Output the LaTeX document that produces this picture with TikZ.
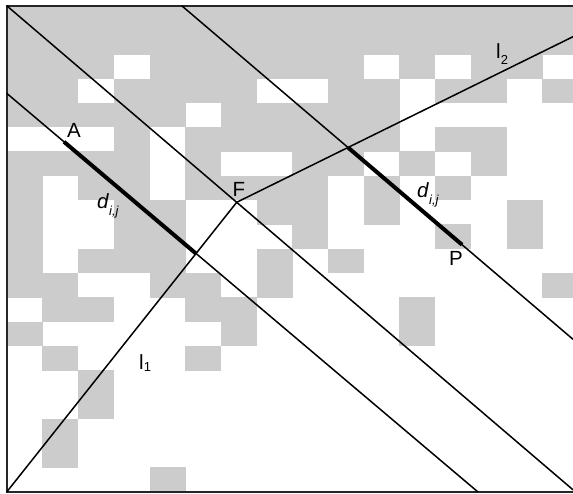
\documentclass[tikz,border=0pt]{standalone}
\usepackage{fontspec}
\setmainfont{Liberation Sans}
\definecolor{cellgray}{RGB}{204,204,204}
\begin{document}
\begin{tikzpicture}[x=1pt,y=-1pt,
  thinline/.style={line width=1.5pt,black},
  thickline/.style={line width=4pt,black},
  frameline/.style={line width=2pt,black!85},
  lbl/.style={font=\fontsize{20.5}{20.5}\selectfont,inner sep=0pt}]
\useasboundingbox (0,0) rectangle (573,494);
\clip (0,0) rectangle (573,494);
\fill[white] (0,0) rectangle (573,494);
\def\gx{6.7}\def\gy{5.7}\def\cw{35.7}\def\ch{24.3}
\foreach \r/\cols in {0/{0,...,15},1/{0,...,15},
  2/{0,1,2,4,5,6,7,8,9,11,13,14},
  3/{0,1,3,4,5,6,9,10,12,13,15},
  4/{0,1,2,3,4,6,7,8,9,10},
  5/{3,5,6,7,8,9,10,12,13},
  6/{0,1,2,3,5,8,9,11,13},
  7/{0,2,3,5,6,7,8,10,12},
  8/{0,3,4,7,8,10,14},
  9/{0,3,4,8,12,14},
  10/{0,2,3,4,7,9},
  11/{0,1,4,5,7,15},
  12/{1,2,5,6,11},
  13/{0,6,11},
  14/{1,5},
  15/{2},16/{2},17/{1},18/{1},19/{4}}{
  \foreach \c in \cols {
    \fill[cellgray] ({\gx+\c*\cw},{\gy+\r*\ch}) rectangle ++({\cw+0.3},{\ch+0.3});
  }
}
% frame
\coordinate (FTR) at (580,5.7);
\coordinate (TL) at (6.7,5.7);
\coordinate (BL) at (6.7,491.7);
\coordinate (FBR) at (580,491.7);
\draw[frameline] (FTR) -- (TL) -- (BL) -- (FBR);
% key points
\coordinate (D1end) at (573,489.8);
\coordinate (L2a) at (6.7,93.3);
\coordinate (L2b) at (478,492);
\coordinate (L3a) at (181.7,5.7);
\coordinate (L3b) at (573,339.3);
\coordinate (F) at (236.7,202.3);
\coordinate (L1a) at (6.7,492);
\coordinate (L2e) at (573,36.7);
\coordinate (X1) at (195.9,253.5);
\coordinate (X2) at (348,147.5);
\coordinate (Apt) at (64,141.8);
\coordinate (Ppt) at (462,244.7);
% lines
\draw[thinline] (TL) -- (D1end);
\draw[thinline] (L2a) -- (L2b);
\draw[thinline] (L3a) -- (L3b);
\draw[thinline] (L1a) -- (F);
\draw[thinline] (F) -- (L2e);
\draw[thickline] (Apt) -- (X1);
\draw[thickline] (X2) -- (Ppt);
% labels
\node[lbl] (labA) at (74,130) {A};
\node[lbl] (labF) at (239,189) {F};
\node[lbl] (labP) at (456,258) {P};
\node[lbl,anchor=base west] (labd1) at (97,209) {\textit{d}\raisebox{-7pt}{\fontsize{13}{13}\selectfont\textit{i,j}}};
\node[lbl,anchor=base west] (labd2) at (417,198) {\textit{d}\raisebox{-7pt}{\fontsize{13}{13}\selectfont\textit{i,j}}};
\node[lbl,anchor=base west] (labl1) at (139,369) {l\raisebox{-2pt}{\fontsize{13}{13}\selectfont 1}};
\node[lbl,anchor=base west] (labl2) at (496,58.3) {l\raisebox{-6pt}{\fontsize{13}{13}\selectfont 2}};
\end{tikzpicture}
\end{document}
